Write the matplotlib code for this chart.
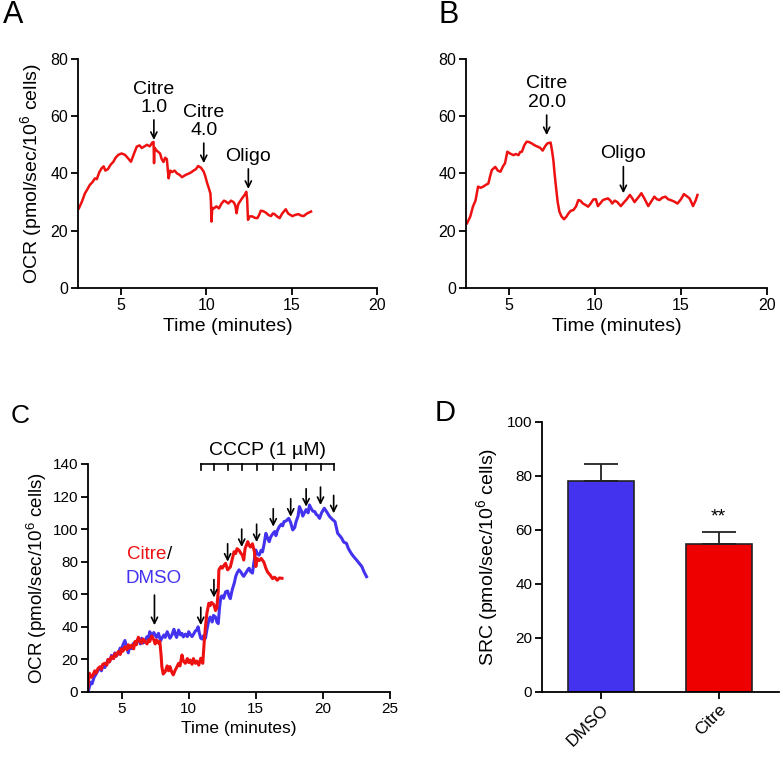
import matplotlib
matplotlib.use("Agg")
import matplotlib.pyplot as plt

plt.rcParams['font.family'] = ['Liberation Sans', 'DejaVu Sans']
plt.rcParams['mathtext.fontset'] = 'custom'
plt.rcParams['mathtext.rm'] = 'Liberation Sans'

RED = '#ee1111'
BLUE = '#4433ee'

# panel A: Citre 1.0 -> 4.0 -> Oligo
a_time = [2.55, 2.75, 2.9, 3.05, 3.19, 3.35, 3.49, 3.6, 3.75, 3.88, 4.0, 4.1, 4.25, 4.4, 4.57, 4.7, 4.86,
          5.05, 5.25, 5.4, 5.6, 5.75, 5.94, 6.1, 6.23, 6.4, 6.53, 6.7, 6.85, 6.92, 6.95, 6.98, 7.1, 7.3,
          7.4, 7.5, 7.6, 7.7, 7.8, 7.9, 8.0, 8.15, 8.3, 8.45, 8.59, 8.8, 9.0, 9.15, 9.26, 9.4, 9.53, 9.7,
          9.86, 9.95, 10.06, 10.15, 10.25, 10.28, 10.31, 10.36, 10.45, 10.6, 10.75, 10.9, 11.04, 11.15,
          11.3, 11.45, 11.6, 11.7, 11.78, 11.85, 11.9, 12.1, 12.25, 12.35, 12.4, 12.45, 12.55, 12.7,
          12.85, 13.0, 13.1, 13.2, 13.35, 13.5, 13.65, 13.8, 13.9, 14.0, 14.15, 14.3, 14.45, 14.66,
          14.8, 15.05, 15.2, 15.4, 15.55, 15.7, 15.9, 16.14]
a_ocr = [27.8, 30.5, 33, 34.5, 36, 37, 38.3, 38, 40.5, 41.8, 42.5, 41, 41.5, 43, 44.1, 45.5, 46.5,
         47, 46.5, 45.5, 44.1, 46.5, 49.4, 49.8, 48.9, 49.5, 50, 49.5, 50.8, 51, 43.6, 49, 48, 47,
         45, 44, 45.5, 45, 38.3, 41, 40.5, 41, 40, 39.5, 38.7, 39.5, 40, 40.5, 41, 41.5, 42.6, 42,
         40.6, 39, 36.6, 35, 33, 30, 23.2, 28, 27.8, 28.5, 27.8, 29.5, 30.5, 30.2,
         29.5, 30.5, 30, 29, 26.1, 28.5, 29.5, 31.3, 32.5, 33.6, 31, 23.8, 25, 25,
         24.5, 24.4, 25.5, 27, 26.8, 26.3, 25.5, 25.1, 26, 25.8, 25, 24.4, 26, 27.5,
         26, 25.1, 25.5, 25.8, 25.3, 25.1, 26, 26.7]
a_labels = ['Citre\n1.0', 'Citre\n4.0', 'Oligo']
a_arrow_x = [6.94, 9.86, 12.47]
a_arrow_tip = [51.7, 43.6, 34.6]

# panel B: Citre 20.0 -> Oligo
b_time = [2.56, 2.75, 2.9, 3.05, 3.2, 3.35, 3.5, 3.65, 3.8, 3.9, 4.0, 4.2, 4.35, 4.5, 4.65, 4.77, 4.9,
          5.05, 5.26, 5.4, 5.55, 5.65, 5.75, 5.9, 6.03, 6.15, 6.32, 6.5, 6.65, 6.8, 6.96, 7.1, 7.23,
          7.42, 7.5, 7.58, 7.65, 7.73, 7.83, 7.93, 8.05, 8.2, 8.35, 8.45, 8.6, 8.74, 8.9, 9.03, 9.15,
          9.3, 9.45, 9.6, 9.75, 9.9, 10.05, 10.17, 10.3, 10.46, 10.6, 10.75, 10.9, 11.0, 11.15, 11.3,
          11.5, 11.7, 11.85, 12.03, 12.15, 12.3, 12.5, 12.7, 12.85, 13.1, 13.25, 13.45, 13.6, 13.75,
          13.9, 14.1, 14.25, 14.4, 14.6, 14.8, 15.0, 15.17, 15.35, 15.5, 15.6, 15.7, 15.85, 15.96]
b_ocr = [22.6, 25, 28.4, 30.5, 35.4, 35, 35.4, 36, 36.5, 39, 41.2, 42.3, 41, 40.6, 42.5, 43.6, 47.6,
         47, 46.4, 46.8, 46.4, 47.5, 47.6, 50, 51.1, 51, 50.5, 49.8, 49.4, 49, 48, 49.5, 50.5,
         50.8, 48, 44.6, 40, 35.4, 30, 26.7, 25, 24, 25, 26, 27, 27.2, 28.5, 30.7, 30.5,
         29.5, 29, 28.4, 29.5, 30.9, 31, 28.6, 29.5, 30.7, 31, 31.3, 30.5, 29.5, 30.5, 30,
         28.6, 30, 31, 32.5, 31.5, 30, 31.5, 33.1, 31.5, 28.6, 30, 31.9, 31, 30.7,
         31.5, 31.9, 31, 30.7, 30.2, 29.5, 31, 32.8, 32, 31.3, 30, 28.6, 30.5, 32.5]
b_labels = ['Citre\n20.0', 'Oligo']
b_arrow_x = [7.19, 11.65]
b_arrow_tip = [53.4, 33.1]

# panel C: Citre vs DMSO with CCCP titration
c_citre_time = [2.5, 2.55, 2.6, 2.75, 2.85, 3.0, 3.1, 3.25, 3.4, 3.5, 3.6, 3.75, 3.9, 4.0, 4.1, 4.25,
                4.4, 4.5, 4.6, 4.75, 4.9, 5.0, 5.1, 5.25, 5.4, 5.5, 5.6, 5.75, 5.9, 6.0, 6.1, 6.25,
                6.4, 6.5, 6.6, 6.75, 6.9, 7.0, 7.1, 7.25, 7.4, 7.5, 7.6, 7.75, 7.85, 7.95, 8.0, 8.1,
                8.25, 8.4, 8.5, 8.6, 8.75, 8.85, 9.0, 9.1, 9.25, 9.35, 9.5, 9.6, 9.75, 9.9, 10.0,
                10.1, 10.25, 10.35, 10.5, 10.6, 10.75, 10.9, 11.05, 11.15, 11.25, 11.35, 11.5, 11.6,
                11.7, 11.88, 12.0, 12.1, 12.2, 12.25, 12.4, 12.5, 12.65, 12.75, 12.9, 13.1, 13.2,
                13.38, 13.5, 13.6, 13.75, 13.9, 14.0, 14.1, 14.2, 14.4, 14.5, 14.6, 14.75, 14.9,
                15.0, 15.1, 15.25, 15.4, 15.6, 15.75, 15.88, 16.05, 16.25, 16.4, 16.6, 16.75, 16.95]
c_citre_ocr = [2.5, 8, 11.5, 9, 10, 13, 11.5, 14.5, 15.5, 14, 17, 17.6, 16.5, 20, 18.5, 21.7,
               20.5, 23.5, 22, 24.8, 23, 26.5, 25, 27.8, 26, 29, 27, 28.8, 26.5, 31, 29, 33.6,
               31, 30, 32.5, 30.9, 29.5, 32, 31, 34.4, 32, 29.5, 31.9, 30, 31, 22, 15.6, 11,
               12.5, 16, 13, 15.6, 12, 10.5, 13.5, 15, 17.6, 16, 22.7, 19, 17.6, 20.5, 18,
               19.6, 17, 20.5, 17.6, 19, 16.5, 20.7, 17.6, 30, 40, 48, 54.5, 53,
               55, 53.5, 50, 51.6, 62, 75, 77, 76, 78, 79, 75, 76.7, 80,
               86.1, 85, 88, 87, 85, 84, 81, 88, 92.3, 90, 89, 91, 86,
               77, 82, 80.7, 82, 79.7, 76, 73.6, 72, 69.6, 70.5, 68.6, 70, 69.8]
c_dmso_time = [2.5, 2.6, 2.7, 2.8, 2.95, 3.1, 3.25, 3.4, 3.5, 3.6, 3.75, 3.9, 4.0, 4.1, 4.25, 4.4,
               4.5, 4.6, 4.75, 4.9, 5.0, 5.1, 5.25, 5.4, 5.5, 5.6, 5.75, 5.9, 6.0, 6.1, 6.25, 6.4,
               6.5, 6.6, 6.75, 6.9, 7.0, 7.1, 7.25, 7.4, 7.5, 7.6, 7.75, 7.9, 8.0, 8.15, 8.25, 8.4,
               8.5, 8.6, 8.75, 8.9, 9.0, 9.1, 9.25, 9.4, 9.5, 9.6, 9.75, 9.9, 10.0, 10.1, 10.25,
               10.4, 10.5, 10.6, 10.7, 10.8, 10.9, 11.0, 11.1, 11.25, 11.35, 11.5, 11.6, 11.75,
               11.85, 12.0, 12.1, 12.2, 12.3, 12.4, 12.5, 12.6, 12.75, 12.9, 13.0, 13.1, 13.25,
               13.4, 13.5, 13.6, 13.75, 13.9, 14.0, 14.1, 14.25, 14.4, 14.5, 14.6, 14.75, 14.85,
               15.0, 15.1, 15.25, 15.4, 15.5, 15.6, 15.75, 15.9, 16.0, 16.1, 16.25, 16.4, 16.5,
               16.6, 16.75, 16.9, 17.0, 17.1, 17.25, 17.45, 17.6, 17.75, 17.9, 18.0, 18.15, 18.25,
               18.4, 18.5, 18.6, 18.75, 18.9, 19.0, 19.1, 19.25, 19.4, 19.5, 19.6, 19.75, 19.9,
               20.1, 20.25, 20.4, 20.5, 20.7, 20.9, 21.0, 21.1, 21.25, 21.4, 21.55, 21.75, 21.9,
               22.1, 22.3, 22.5, 22.7, 22.9, 23.05, 23.25]
c_dmso_ocr = [0, 3, 6, 5, 9, 11, 13.3, 15, 13, 16.5, 15, 18, 20, 18.5, 22.5, 20.5,
              24, 22, 23.5, 27, 25, 29, 31.6, 27, 24, 28, 26.6, 30, 29, 31, 32.7, 29.5,
              33, 30, 31.7, 34, 32.5, 37, 34, 36.5, 35, 33.5, 36, 31.5, 33, 35, 33.5, 37,
              35, 33, 35, 38.5, 35.5, 33.5, 38, 35, 36, 33.8, 35.5, 34, 37, 35.5, 34,
              36, 37.5, 38, 40, 36, 33, 32.5, 34.5, 33, 38, 44, 46, 43,
              47, 46, 43, 42, 52, 58.5, 59, 57.5, 61.5, 62, 59, 57.3, 63,
              67, 70.8, 73, 75, 73.5, 72, 71, 73, 75, 76, 74, 73, 79,
              87.2, 85, 84, 87, 86, 90, 97.4, 94, 92.3, 95, 97, 98.5, 96,
              99, 101.5, 103, 102, 104.6, 105, 106.6, 104, 99.5, 101, 104.6, 108, 113.8,
              111, 108, 109.7, 112, 110, 114.8, 113, 111, 110.7, 109, 108.5, 106.6, 110,
              112.8, 111, 109, 107.7, 106, 104.6, 101, 97.4, 96, 94.4, 92, 91.3, 88,
              85.2, 83, 81.1, 79, 77, 74, 70.8]
c_arrow_x = [7.45, 10.9, 11.88, 12.9, 13.95, 15.06, 16.3, 17.6, 18.75, 19.82, 20.8]
c_arrow_tip = [41, 41, 58, 80, 89, 92, 101.5, 107.6, 113.8, 114.8, 109.7]

# panel D: spare respiratory capacity
d_groups = ['DMSO', 'Citre']
d_src = [78.1, 54.9]
d_err = [6.2, 4.2]

fig = plt.figure(figsize=(7.81, 7.57), dpi=100)


def style(ax, fs):
    for s in ['top', 'right']:
        ax.spines[s].set_visible(False)
    for s in ['left', 'bottom']:
        ax.spines[s].set_linewidth(1.3)
    ax.tick_params(direction='out', length=5, width=1.3, labelsize=fs, pad=2)


def down_arrow(ax, x, tip, length, lw=1.2):
    ax.annotate('', xy=(x, tip), xytext=(x, tip + length),
                arrowprops=dict(arrowstyle='->', lw=lw, color='black',
                                mutation_scale=11, shrinkA=0, shrinkB=0),
                annotation_clip=False)


ocr_label = 'OCR (pmol/sec/10$^\\mathregular{6}$ cells)'

# ---- A
axA = fig.add_axes([0.0999, 0.6196, 0.3828, 0.3025])
axA.plot(a_time, a_ocr, color=RED, lw=1.8)
axA.set_xlim(2.5, 20)
axA.set_ylim(0, 80)
axA.set_xticks([5, 10, 15, 20])
axA.set_yticks([0, 20, 40, 60, 80])
style(axA, 11.5)
axA.set_ylabel(ocr_label, fontsize=14, labelpad=4)
axA.set_xlabel('Time (minutes)', fontsize=14, labelpad=4)
for lab, x, tip in zip(a_labels, a_arrow_x, a_arrow_tip):
    down_arrow(axA, x, tip, 7)
    axA.text(x, tip + 8.3, lab, ha='center', va='bottom', fontsize=14, linespacing=1.1)
fig.text(0.017, 0.98, 'A', fontsize=22, va='center', ha='center')

# ---- B
axB = fig.add_axes([0.5967, 0.6196, 0.3853, 0.3025])
axB.plot(b_time, b_ocr, color=RED, lw=1.8)
axB.set_xlim(2.5, 20)
axB.set_ylim(0, 80)
axB.set_xticks([5, 10, 15, 20])
axB.set_yticks([0, 20, 40, 60, 80])
style(axB, 11.5)
axB.set_xlabel('Time (minutes)', fontsize=14, labelpad=4)
for lab, x, tip in zip(b_labels, b_arrow_x, b_arrow_tip):
    ln = 7 if lab.startswith('Citre') else 9.3
    down_arrow(axB, x, tip, ln)
    axB.text(x, tip + ln + 1.5, lab, ha='center', va='bottom', fontsize=14, linespacing=1.1)
fig.text(0.574, 0.98, 'B', fontsize=22, va='center', ha='center')

# ---- C
axC = fig.add_axes([0.1127, 0.0859, 0.3867, 0.3012])
axC.plot(c_dmso_time, c_dmso_ocr, color=BLUE, lw=2.2)
axC.plot(c_citre_time, c_citre_ocr, color=RED, lw=2.2)
axC.set_xlim(2.5, 25)
axC.set_ylim(0, 140)
axC.set_xticks([5, 10, 15, 20, 25])
axC.set_yticks(range(0, 141, 20))
style(axC, 11)
axC.set_ylabel(ocr_label, fontsize=13.5, labelpad=3)
axC.set_xlabel('Time (minutes)', fontsize=12.5, labelpad=4)
for i, (x, tip) in enumerate(zip(c_arrow_x, c_arrow_tip)):
    down_arrow(axC, x, tip, 18.5 if i == 0 else 11)
# CCCP bracket
br = c_arrow_x[1:]
axC.plot([br[0], br[-1]], [140, 140], color='black', lw=1.2, clip_on=False)
for x in br:
    axC.plot([x, x], [140, 136.5], color='black', lw=1.2, clip_on=False)
axC.text((br[0] + br[-1]) / 2, 145.5, 'CCCP (1 µM)', ha='center', va='baseline', fontsize=14)
axC.text(8.35, 81.7, 'Citre', color=RED, ha='right', va='baseline', fontsize=13.5)
axC.text(8.35, 81.7, '/', color='black', ha='left', va='baseline', fontsize=13.5)
axC.text(7.41, 66.7, 'DMSO', color=BLUE, ha='center', va='baseline', fontsize=13.5)
fig.text(0.026, 0.45, 'C', fontsize=19, va='center', ha='center')

# ---- D
axD = fig.add_axes([0.694, 0.0859, 0.303, 0.3567])
xpos = range(len(d_groups))
axD.bar(xpos, d_src, width=0.56, color=[BLUE, '#ee0000'], edgecolor='#222222', linewidth=1.2)
axD.errorbar(xpos, d_src, yerr=[[0, 0], d_err], fmt='none', ecolor='#222222',
             elinewidth=1.3, capsize=12, capthick=1.3)
axD.text(1, d_src[1] + d_err[1] + 2.5, '**', ha='center', va='bottom', fontsize=14)
axD.set_xlim(-0.5, 1.51)
axD.set_ylim(0, 100)
axD.set_yticks(range(0, 101, 20))
axD.set_xticks(list(xpos))
style(axD, 11)
axD.set_xticklabels(d_groups, rotation=45, ha='right', rotation_mode='anchor', fontsize=12.5)
axD.set_ylabel('SRC (pmol/sec/10$^\\mathregular{6}$ cells)', fontsize=14, labelpad=4)
fig.text(0.57, 0.455, 'D', fontsize=21, va='center', ha='center')

fig.savefig('out.png', dpi=100)
